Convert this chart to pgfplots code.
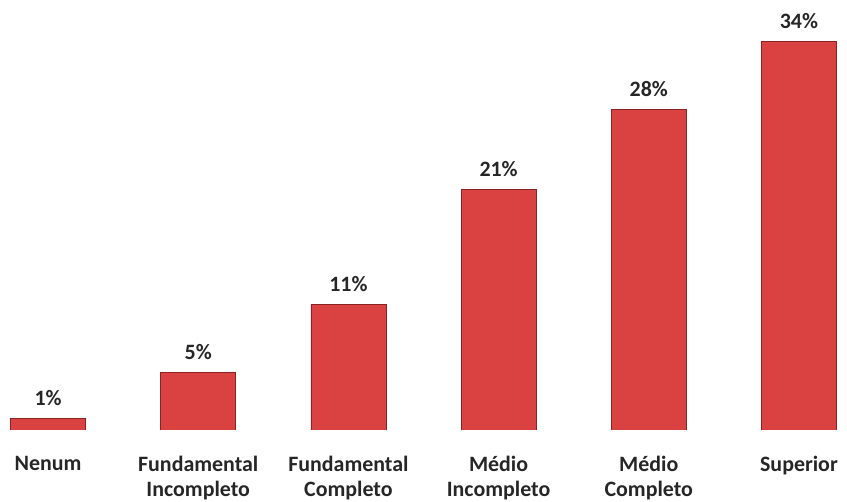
\documentclass[border=0pt]{standalone}
\usepackage{pgfplots}
\pgfplotsset{compat=1.18}
\usepackage{fontspec}
\setmainfont{Carlito}
\definecolor{barfill}{RGB}{217,66,64}
\definecolor{baredge}{RGB}{140,35,35}
\definecolor{txt}{RGB}{38,38,38}
\begin{document}
\begin{tikzpicture}[x=1bp,y=1bp]
\path[use as bounding box] (0,-72) rectangle (847,430);
\begin{axis}[
  at={(0,0)}, anchor=south west,
  scale only axis, width=847bp, height=432bp,
  xmin=-0.32, xmax=5.32, ymin=0, ymax=37.76,
  axis line style={draw=none},
  ytick=\empty,
  ybar, bar width=75bp,
  xtick=data,
  xticklabels={Nenum,{Fundamental\\Incompleto},{Fundamental\\Completo},{Médio\\Incompleto},{Médio\\Completo},Superior},
  major tick length=0pt,
  xticklabel style={align=center, font=\fontsize{22}{24.5}\selectfont\bfseries, text=txt, anchor=north, yshift=-23bp},
  nodes near coords={\pgfmathprintnumber{\pgfplotspointmeta}\%},
  nodes near coords style={font=\fontsize{22}{25}\selectfont\bfseries, text=txt, anchor=south, yshift=9bp},
  /pgf/number format/assume math mode=true,
]
\addplot[fill=barfill, draw=baredge, line width=0.8bp] coordinates {(0,1) (1,5) (2,11) (3,21) (4,28) (5,34)};
\end{axis}
\end{tikzpicture}
\end{document}
